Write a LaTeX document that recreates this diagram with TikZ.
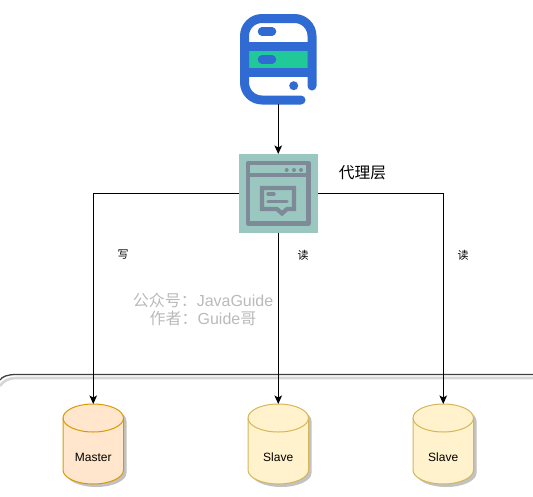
\documentclass[tikz,border=0pt]{standalone}
\usepackage{fontspec}
\setmainfont{Liberation Sans}
\newfontfamily\cjk{Noto Sans CJK SC}
\usetikzlibrary{arrows.meta}
\definecolor{iconblue}{HTML}{2F6BD3}
\definecolor{icongreen}{HTML}{20C997}
\definecolor{proxybg}{HTML}{9AC7BF}
\definecolor{proxyfg}{HTML}{7F8A98}
\definecolor{mfill}{HTML}{FFE6CC}
\definecolor{mline}{HTML}{D79B00}
\definecolor{sfill}{HTML}{FFF2CC}
\definecolor{sline}{HTML}{D6B656}
\tikzset{
  x=1pt,y=-1pt,
  conn/.style={draw=black,line width=1.1pt,-{Stealth[length=8.5pt,width=7.5pt,inset=2pt]}},
  blueline/.style={draw=iconblue,line width=9pt,line cap=round,line join=round},
  pill/.style={draw=iconblue,line width=8.5pt,line cap=round},
  proxyline/.style={draw=proxyfg,line width=4.2pt},
  lbl/.style={font=\cjk\fontsize{11}{13}\selectfont,inner sep=0pt},
  dbtext/.style={font=\fontsize{12}{14}\selectfont,inner sep=0pt},
  mark text/.style={font=\cjk\fontsize{16}{18}\selectfont,text=black!27,inner sep=0pt,align=center}
}
\newcommand{\cylpath}{(0,418) .. controls (0,410.27) and (13.5,404) .. (30.25,404) .. controls (47,404) and (60.5,410.27) .. (60.5,418) -- (60.5,470) .. controls (60.5,477.73) and (47,484) .. (30.25,484) .. controls (13.5,484) and (0,477.73) .. (0,470) -- cycle}
% #1 = x left, #2 = fill, #3 = stroke, #4 = label, #5 = name
\newcommand{\dbcyl}[5]{%
  \begin{scope}[shift={(#1,0)}]
    \fill[black!24,shift={(3,3)}] \cylpath;
    \filldraw[fill=#2,draw=#3,line width=1pt] \cylpath;
    \draw[#3,line width=1pt] (0,418) .. controls (0,425.73) and (13.5,432) .. (30.25,432) .. controls (47,432) and (60.5,425.73) .. (60.5,418);
    \node[dbtext] (#5) at (30.25,457) {#4};
  \end{scope}
}
\begin{document}
\begin{tikzpicture}
\useasboundingbox (0,0) rectangle (533,496);
% container frame
\draw[black!16,line width=2.6pt] (0,386) .. controls (3,381) and (9,378) .. (16,378) -- (533,378);
\draw[black!75,line width=1.3pt] (0,380) .. controls (2,376.5) and (8,374.5) .. (16,374.5) -- (533,374.5);
% client icon
\fill[icongreen] (249,50) rectangle (308,68);
\draw[blueline] (301,100) -- (262,100) arc[start angle=90,end angle=180,radius=17.5] -- (244.5,36) arc[start angle=180,end angle=270,radius=17.5] -- (294.5,18.5) arc[start angle=270,end angle=360,radius=17.5] -- (312,86);
\fill[iconblue] (245,42) rectangle (312,50.5);
\fill[iconblue] (245,68) rectangle (312,77);
\draw[pill] (262,31.5) -- (272,31.5);
\draw[pill] (262,59.5) -- (272,59.5);
\fill[iconblue] (293.7,85.7) circle[radius=4.5];
\coordinate (clientb) at (278.25,104);
\coordinate (clientend) at (278.25,154);
% proxy icon
\node[fill=proxybg,minimum size=78.4pt,inner sep=0pt,draw=none] (proxy) at (278.5,193.3) {};
\draw[proxyline,line join=round] (248,163) rectangle (308.5,223.5);
\draw[proxyline] (248,175) -- (308.5,175);
\fill[proxyfg] (286.7,170) circle[radius=2] (294,170) circle[radius=2] (301,170) circle[radius=2];
\draw[proxyline,line join=miter] (262,188) -- (294,188) -- (294,209) -- (287,209) -- (282,213.5) -- (277,209) -- (262,209) -- cycle;
\draw[draw=proxyfg,line width=3.4pt,line cap=round] (268,194) -- (274,194);
\draw[draw=proxyfg,line width=3.4pt,line cap=round] (268,201.5) -- (287,201.5);
% databases
\dbcyl{63}{mfill}{mline}{Master}{dbm}
\dbcyl{248}{sfill}{sline}{Slave}{dbs1}
\dbcyl{413}{sfill}{sline}{Slave}{dbs2}
\coordinate (mtop) at (93.25,404);
\coordinate (s1top) at (278.25,404);
\coordinate (s2top) at (443.25,404);
% connectors
\draw[conn] (clientb) -- (clientend);
\draw[conn] (proxy.west) -| (mtop);
\draw[conn] (proxy.south -| s1top) -- (s1top);
\draw[conn] (proxy.east) -| (s2top);
% labels
\node[inner sep=0pt,font=\cjk\fontsize{15.7}{17}\selectfont] (ptext) at (362.5,173) {代理层};
\node[lbl] (w) at (123,255) {写};
\node[lbl] (r1) at (303,255) {读};
\node[lbl] (r2) at (463,255) {读};
\node[mark text] (wm) at (203,309) {公众号：\fontspec{Liberation Sans}JavaGuide\\作者：\fontspec{Liberation Sans}Guide\cjk 哥};
\end{tikzpicture}
\end{document}
